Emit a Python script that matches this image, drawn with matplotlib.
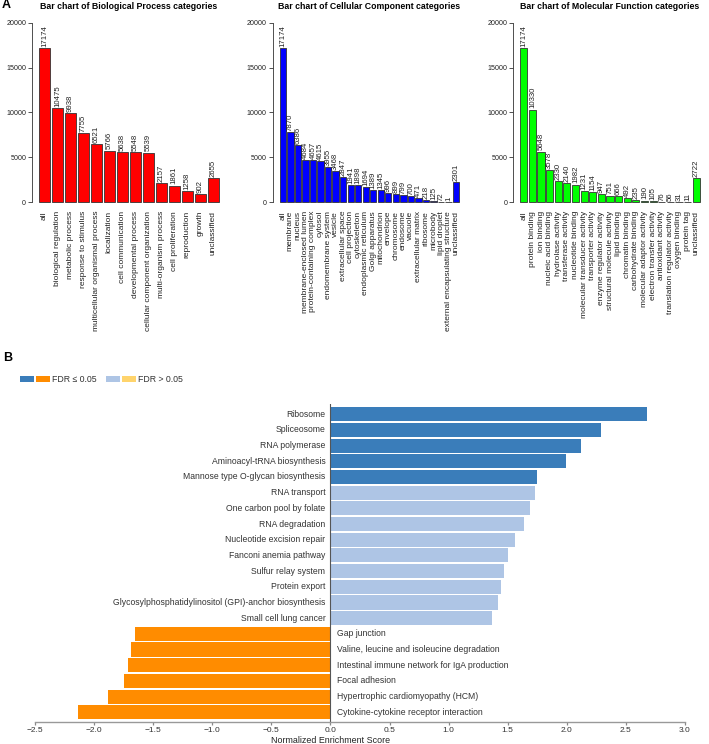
"""Figure: GO category bar charts (A) and GSEA enrichment scores (B)."""

import matplotlib
import numpy as np

matplotlib.use("Agg", force=True)
import matplotlib.pyplot as plt
from matplotlib import font_manager
from matplotlib.patches import Rectangle

# ---- panel A data -------------------------------------------------------
bp_terms = [
    "all", "biological regulation", "metabolic process", "response to stimulus",
    "multicellular organismal process", "localization", "cell communication",
    "developmental process", "cellular component organization",
    "multi-organism process", "cell proliferation", "reproduction", "growth",
    "unclassified",
]
bp_counts = [17174, 10475, 9938, 7755, 6521, 5766, 5638, 5548, 5539, 2157, 1861, 1258, 902, 2655]

cc_terms = [
    "all", "membrane", "nucleus", "membrane-enclosed lumen", "protein-containing complex",
    "cytosol", "endomembrane system", "vesicle", "extracellular space", "cell projection",
    "cytoskeleton", "endoplasmic reticulum", "Golgi apparatus", "mitochondrion",
    "envelope", "chromosome", "endosome", "vacuole", "extracellular matrix", "ribosome",
    "microbody", "lipid droplet", "external encapsulating structure", "unclassified",
]
cc_counts = [17174, 7870, 6386, 4684, 4657, 4615, 3955, 3468, 2847, 1941, 1898, 1694,
             1389, 1345, 996, 899, 799, 700, 471, 218, 125, 72, 1, 2301]

mf_terms = [
    "all", "protein binding", "ion binding", "nucleic acid binding", "hydrolase activity",
    "transferase activity", "nucleotide binding", "molecular transducer activity",
    "transporter activity", "enzyme regulator activity", "structural molecule activity",
    "lipid binding", "chromatin binding", "carbohydrate binding",
    "molecular adaptor activity", "electron transfer activity", "antioxidant activity",
    "translation regulator activity", "oxygen binding", "protein tag", "unclassified",
]
mf_counts = [17174, 10330, 5648, 3578, 2330, 2140, 1982, 1231, 1154, 947, 751, 666, 492,
             235, 190, 105, 76, 56, 31, 11, 2722]

# ---- panel B data -------------------------------------------------------
nes_terms = [
    "Ribosome", "Spliceosome", "RNA polymerase", "Aminoacyl-tRNA biosynthesis",
    "Mannose type O-glycan biosynthesis", "RNA transport", "One carbon pool by folate",
    "RNA degradation", "Nucleotide excision repair", "Fanconi anemia pathway",
    "Sulfur relay system", "Protein export",
    "Glycosylphosphatidylinositol (GPI)-anchor biosynthesis", "Small cell lung cancer",
    "Gap junction", "Valine, leucine and isoleucine degradation",
    "Intestinal immune network for IgA production", "Focal adhesion",
    "Hypertrophic cardiomyopathy (HCM)", "Cytokine-cytokine receptor interaction",
]
nes_scores = [2.68, 2.29, 2.12, 1.99, 1.75, 1.73, 1.69, 1.64, 1.56, 1.50, 1.47, 1.44,
              1.42, 1.37, -1.65, -1.69, -1.71, -1.745, -1.88, -2.14]
nes_fdr_ok = [True, True, True, True, True, False, False, False, False, False, False,
              False, False, False, True, True, True, True, True, True]
nes_ticks = [-2.5, -2.0, -1.5, -1.0, -0.5, 0.0, 0.5, 1.0, 1.5, 2.0, 2.5, 3.0]

UP_SIG, UP_NS = "#3a7dba", "#aec5e5"
DN_SIG, DN_NS = "#ff8c00", "#ffd46c"

W, H = 709, 744
fig = plt.figure(figsize=(W / 100, H / 100), dpi=100)

_names = {f.name for f in font_manager.fontManager.ttflist}
NARROW = "Liberation Sans Narrow" if "Liberation Sans Narrow" in _names else "Liberation Sans"
plt.rcParams["font.family"] = ["Liberation Sans", "DejaVu Sans"]


def px_axes(left, top, width, height):
    """Add axes from pixel geometry (origin top-left)."""
    return fig.add_axes([left / W, 1 - (top + height) / H, width / W, height / H])


def r_barchart(ax, terms, counts, color, title):
    """Mimic an R base-graphics barplot with rotated labels."""
    n = len(terms)
    x = 0.7 + 1.2 * np.arange(n)
    ax.bar(x, counts, width=1.0, color=color, edgecolor="#333333", linewidth=0.6)
    span = 1.2 * n - 0.2
    ax.set_xlim(0.2 - 0.04 * span, 1.2 * n + 0.04 * span)
    ax.set_ylim(-800, 20800)
    for side in ("top", "right", "bottom"):
        ax.spines[side].set_visible(False)
    ax.spines["left"].set_bounds(0, 20000)
    ax.spines["left"].set_linewidth(0.6)
    ax.spines["left"].set_color("#333333")
    ax.set_yticks(range(0, 20001, 5000))
    ax.tick_params(axis="y", length=3, width=0.6, pad=1, labelsize=5.1,
                   color="#333333", labelcolor="#222222")
    ax.set_xticks(x, terms, rotation=90, fontsize=6, color="#222222")
    ax.tick_params(axis="x", length=0, pad=1)
    for xi, c in zip(x, counts):
        ax.annotate(str(c), (xi, c), xytext=(0, 0.8), textcoords="offset points",
                    rotation=90, ha="center", va="bottom", fontsize=5.6, color="#222222")
    ax.set_title(title, fontsize=6.3, fontweight="bold", pad=4.5)


r_barchart(px_axes(31.8, 15.5, 194, 194), bp_terms, bp_counts, "#ff0000",
           "Bar chart of Biological Process categories")
r_barchart(px_axes(272.5, 15.5, 194, 194), cc_terms, cc_counts, "#0000ff",
           "Bar chart of Cellular Component categories")
r_barchart(px_axes(513, 15.5, 194, 194), mf_terms, mf_counts, "#00ff00",
           "Bar chart of Molecular Function categories")

fig.text(2 / W, 1 - 5 / H, "A", fontsize=9, fontweight="bold", va="center", ha="left")
fig.text(3 / W, 1 - 358 / H, "B", fontsize=9, fontweight="bold", va="center", ha="left")

# ---- panel B ------------------------------------------------------------
axb = px_axes(35, 404, 650, 318)
y = np.arange(len(nes_terms))
colors = []
for s, ok in zip(nes_scores, nes_fdr_ok):
    if s >= 0:
        colors.append(UP_SIG if ok else UP_NS)
    else:
        colors.append(DN_SIG if ok else DN_NS)
axb.barh(y, nes_scores, height=0.9, color=colors, linewidth=0)
axb.set_xlim(-2.5, 3.0)
axb.set_ylim(len(nes_terms) - 1 + 0.62, -0.65)
axb.axvline(0, color="#555555", linewidth=0.8)
for side in ("top", "right", "left"):
    axb.spines[side].set_visible(False)
axb.spines["bottom"].set_color("#999999")
axb.spines["bottom"].set_linewidth(1.0)
axb.set_yticks([])
axb.set_xticks(nes_ticks, [f"{t:.1f}".replace("-", "\u2212") for t in nes_ticks])
axb.tick_params(axis="x", length=2.5, width=0.9, color="#888888", pad=0.8,
                labelsize=6.0, labelcolor="#333333")
for lab in axb.get_xticklabels():
    lab.set_fontfamily(NARROW)

for yi, s, t in zip(y, nes_scores, nes_terms):
    if s >= 0:
        axb.annotate(t, (0, yi), xytext=(-3.6, 0), textcoords="offset points",
                     ha="right", va="center", fontsize=6.2, color="#333333", family=NARROW)
    else:
        axb.annotate(t, (0, yi), xytext=(4.8, 0), textcoords="offset points",
                     ha="left", va="center", fontsize=6.2, color="#333333", family=NARROW)

axb.annotate("Normalized Enrichment Score", (0, 0), xycoords=("data", "axes fraction"),
             xytext=(0, -13.3), textcoords="offset points", ha="center", va="center",
             fontsize=6.4, color="#222222", family=NARROW)

# legend swatches
for x0, col in ((20, UP_SIG), (36, DN_SIG), (106, UP_NS), (122, DN_NS)):
    fig.patches.append(Rectangle((x0 / W, 1 - 382 / H), 14 / W, 5.7 / H,
                                 transform=fig.transFigure, color=col, linewidth=0))
fig.text(52 / W, 1 - 379 / H, "FDR \u2264 0.05", fontsize=6.3, va="center", color="#333333")
fig.text(138 / W, 1 - 379 / H, "FDR > 0.05", fontsize=6.3, va="center", color="#333333")

fig.savefig("out.png", dpi=100)
plt.close(fig)
